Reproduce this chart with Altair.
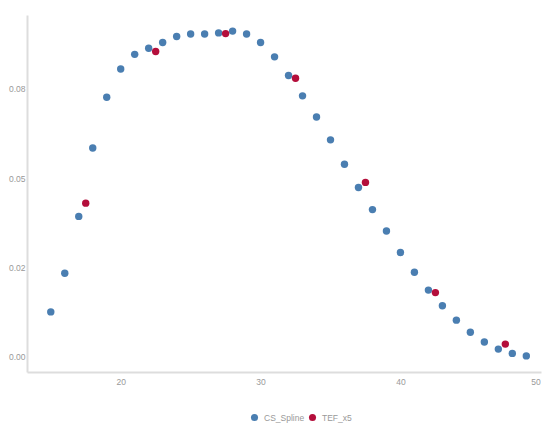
import altair as alt
import pandas as pd

series_names = ["CS_Spline", "TEF_x5"]
series_colors = ["#4a7eb1", "#b40e3b"]

spline_x = list(range(15, 50))
spline_y = [0.0126, 0.0234, 0.0393, 0.0584, 0.0726, 0.0805, 0.0846, 0.0863,
            0.0879, 0.0896, 0.0903, 0.0903, 0.0906, 0.0911, 0.0903, 0.0879,
            0.0839, 0.0787, 0.0730, 0.0671, 0.0607, 0.0539, 0.0474, 0.0412,
            0.0352, 0.0292, 0.0237, 0.0187, 0.0143, 0.0103, 0.0069, 0.0042,
            0.0022, 0.0010, 0.0003]

tef_x = [17.5, 22.5, 27.5, 32.5, 37.5, 42.5, 47.5]
tef_y = [0.0430, 0.0854, 0.0904, 0.0779, 0.0488, 0.0180, 0.0036]

x_ticks = [20, 30, 40, 50]
y_ticks = [0, 0.025, 0.05, 0.075]
y_tick_labels = ["0.00", "0.02", "0.05", "0.08"]

df = pd.concat([
    pd.DataFrame({"x": spline_x, "y": spline_y, "series": series_names[0]}),
    pd.DataFrame({"x": tef_x, "y": tef_y, "series": series_names[1]}),
], ignore_index=True)

label_expr = ""
for v, lab in zip(y_ticks[:-1], y_tick_labels[:-1]):
    label_expr += f"abs(datum.value - {v}) < 0.001 ? '{lab}' : "
label_expr += f"'{y_tick_labels[-1]}'"

font = "Liberation Sans Narrow, Liberation Sans, sans-serif"

chart = alt.Chart(df).mark_circle(size=55, opacity=1).encode(
    x=alt.X("x:Q", title=None,
            scale=alt.Scale(domain=[13.3, 50.05], nice=False, zero=False),
            axis=alt.Axis(values=x_ticks, ticks=False, grid=False, labelPadding=5)),
    y=alt.Y("y:Q", title=None,
            scale=alt.Scale(domain=[-0.0042, 0.0956], nice=False, zero=False),
            axis=alt.Axis(values=y_ticks, ticks=False, grid=False, labelPadding=2,
                          labelExpr=label_expr)),
    color=alt.Color("series:N", scale=alt.Scale(domain=series_names, range=series_colors),
                    legend=alt.Legend(title=None, orient="none", direction="horizontal",
                                      legendX=223, legendY=398, symbolType="circle",
                                      symbolSize=50, labelFontSize=8.5, labelColor="#999999",
                                      labelFont=font, columnPadding=3, labelOffset=5)),
    order=alt.Order("series:N"),
).properties(
    width=514, height=357,
    autosize=alt.AutoSizeParams(type="none"),
    padding={"left": 19, "top": 7, "right": 4, "bottom": 52},
).configure_view(stroke=None).configure_axis(
    domainColor="#dddddd", domainWidth=2, labelColor="#999999",
    labelFontSize=8.5, labelFont=font,
)

chart.save("out.html", embed_options={"renderer": "svg", "actions": False})
